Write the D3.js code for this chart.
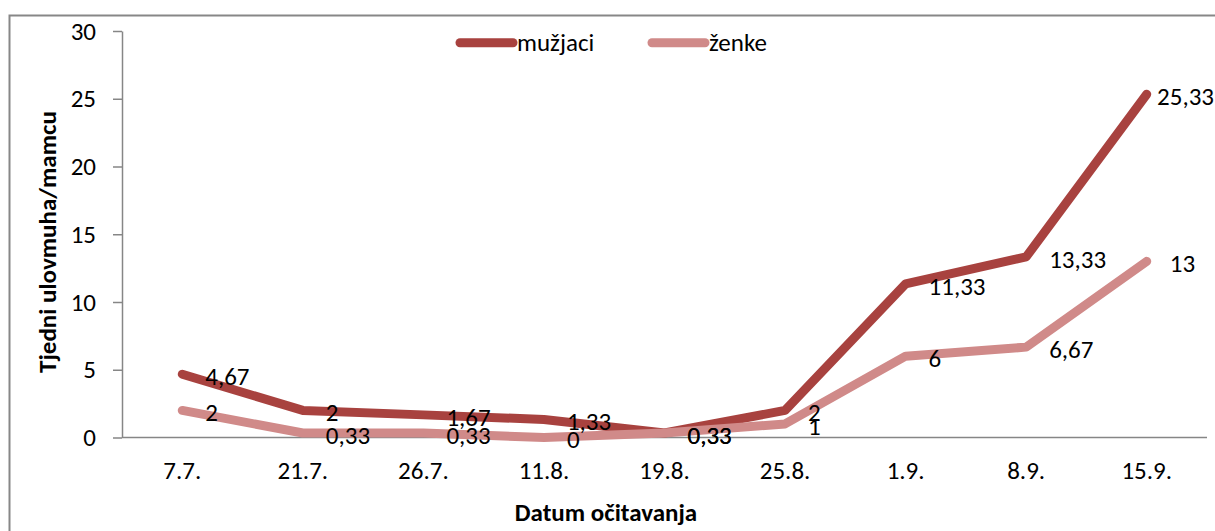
<!DOCTYPE html>
<html>
<head>
<meta charset="utf-8">
<script src="https://cdn.jsdelivr.net/npm/d3@7"></script>
<style>
  body { margin: 0; background: #fff; }
  svg { display: block; }
  text { font-family: Carlito, Calibri, "Open Sans", sans-serif; fill: #000; }
  .axis path, .axis line { stroke: #868686; stroke-width: 1.5; }
</style>
</head>
<body>
<svg id="chart" width="1215" height="531"></svg>
<script>
// chart data
const dates = ["7.7.", "21.7.", "26.7.", "11.8.", "19.8.", "25.8.", "1.9.", "8.9.", "15.9."];
const muzjaci = [4.67, 2, 1.67, 1.33, 0.33, 2, 11.33, 13.33, 25.33];
const zenke = [2, 0.33, 0.33, 0, 0.33, 1, 6, 6.67, 13];
const yTicks = [0, 5, 10, 15, 20, 25, 30];
const seriesNames = ["mužjaci", "ženke"];
const seriesColors = ["#A8423F", "#D08A89"];

const svg = d3.select("#chart");
const plot = { left: 122, right: 1207, top: 31, bottom: 437.5 };
const fontSize = 25;

// outer chart border
svg.append("rect")
  .attr("x", 9.5).attr("y", 15.5)
  .attr("width", 1300).attr("height", 600)
  .attr("fill", "none")
  .attr("stroke", "#878787")
  .attr("stroke-width", 2);

const x = d3.scaleBand().domain(dates).range([plot.left, plot.right]);
const y = d3.scaleLinear().domain([0, 30]).range([plot.bottom, plot.top]);

// y axis
const yAxis = svg.append("g")
  .attr("class", "axis")
  .attr("transform", `translate(${plot.left},0)`)
  .call(d3.axisLeft(y).tickValues(yTicks).tickSize(9).tickPadding(17).tickSizeOuter(0));
yAxis.selectAll("text").style("font-size", fontSize + "px");

// x axis
const xAxis = svg.append("g")
  .attr("class", "axis")
  .attr("transform", `translate(0,${plot.bottom})`)
  .call(d3.axisBottom(x).tickSize(0).tickPadding(24).tickSizeOuter(0));
xAxis.selectAll("text").style("font-size", fontSize + "px");
xAxis.select(".domain").attr("d", `M${plot.left},0H${plot.right}`);

// axis titles
svg.append("text")
  .attr("transform", "translate(56,242) rotate(-90)")
  .attr("text-anchor", "middle")
  .style("font-size", "25px")
  .style("font-weight", "bold")
  .text("Tjedni ulovmuha/mamcu");

svg.append("text")
  .attr("x", 606).attr("y", 521)
  .attr("text-anchor", "middle")
  .style("font-size", "25px")
  .style("font-weight", "bold")
  .text("Datum očitavanja");

// lines
const line = d3.line()
  .x((d, i) => x(dates[i]) + x.bandwidth() / 2)
  .y(d => y(d));

[muzjaci, zenke].forEach((values, s) => {
  svg.append("path")
    .datum(values)
    .attr("fill", "none")
    .attr("stroke", seriesColors[s])
    .attr("stroke-width", 9)
    .attr("stroke-linecap", "round")
    .attr("stroke-linejoin", "round")
    .attr("d", line);
});

// data labels, to the right of each point
const fmt = v => String(v).replace(".", ",");
[muzjaci, zenke].forEach((values, s) => {
  values.forEach((v, i) => {
    const t = svg.append("text")
      .attr("x", x(dates[i]) + x.bandwidth() / 2 + 23)
      .attr("y", y(v) + 2)
      .attr("dy", "0.35em")
      .style("font-size", fontSize + "px")
      .text(fmt(v));
    const w = t.node().getComputedTextLength();
    const px = +t.attr("x");
    if (px + w > 1214) t.attr("x", 1214 - w);
  });
});

// legend
const legendX = [456, 648];
seriesNames.forEach((name, s) => {
  svg.append("line")
    .attr("x1", legendX[s] + 4).attr("x2", legendX[s] + 57)
    .attr("y1", 42.7).attr("y2", 42.7)
    .attr("stroke", seriesColors[s])
    .attr("stroke-width", 9)
    .attr("stroke-linecap", "round");
  svg.append("text")
    .attr("x", legendX[s] + 61)
    .attr("y", 42.7)
    .attr("dy", "0.35em")
    .style("font-size", fontSize + "px")
    .text(name);
});
</script>
</body>
</html>
